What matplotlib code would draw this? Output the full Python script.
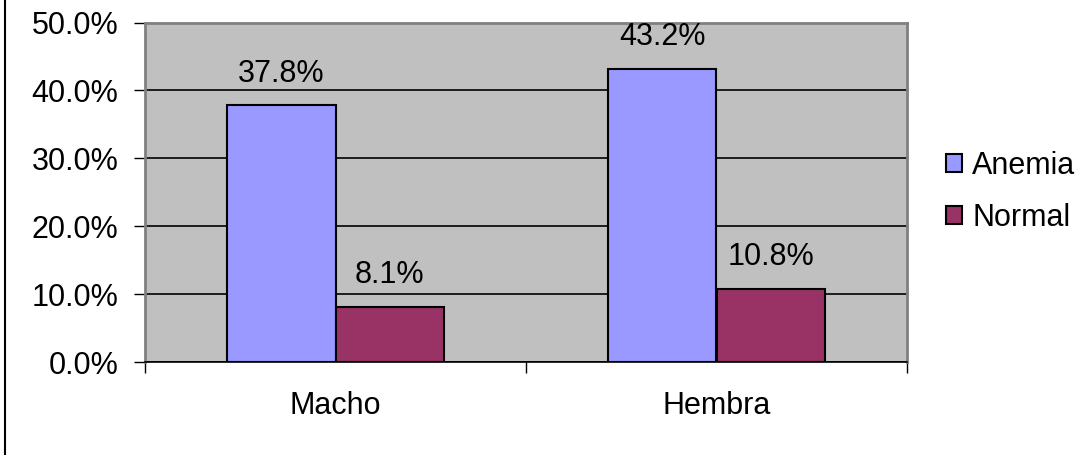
import matplotlib
matplotlib.use("Agg")
import matplotlib.pyplot as plt
import numpy as np
from matplotlib.patches import Patch
from matplotlib.lines import Line2D

plt.rcParams["font.family"] = ["Liberation Sans", "DejaVu Sans"]

categories = ["Macho", "Hembra"]
series_names = ["Anemia", "Normal"]
anemia = [37.8, 43.2]
normal = [8.1, 10.8]
y_ticks = [0, 10, 20, 30, 40, 50]
colors = ["#9999FF", "#993366"]

FS = 22

fig = plt.figure(figsize=(10.83, 4.55), dpi=100)
ax = fig.add_axes([145 / 1083, 93 / 455, 762 / 1083, 339.5 / 455])
ax.set_facecolor("#C0C0C0")

x = np.arange(len(categories))
w = 1 / 3.5
for i, (vals, col) in enumerate(zip([anemia, normal], colors)):
    pos = x + (i - 0.5) * w
    bars = ax.bar(pos, vals, width=w, color=col, edgecolor="black",
                  linewidth=1.5, zorder=3, label=series_names[i])
    for b, v in zip(bars, vals):
        ax.annotate(f"{v:.1f}%", (b.get_x() + b.get_width() / 2, v),
                    xytext=(0, 17), textcoords="offset points",
                    ha="center", va="baseline", fontsize=FS, zorder=4)

ax.set_xlim(-0.5, len(categories) - 0.5)
ax.set_ylim(0, 50)
ax.set_yticks(y_ticks)
ax.set_yticklabels([f"{t:.1f}%" for t in y_ticks], fontsize=FS)
ax.yaxis.grid(True, color="black", linewidth=1.2, zorder=1)
ax.set_axisbelow(True)

ax.set_xticks(x)
ax.set_xticklabels(categories, fontsize=FS)
ax.set_xticks([-0.5, 0.5, 1.5], minor=True)
ax.tick_params(axis="x", which="major", length=0, pad=21)
ax.tick_params(axis="x", which="minor", length=8, width=1, color="black", direction="out")
ax.tick_params(axis="y", length=8, width=1, color="black", direction="out", pad=11)

for s in ["top", "right", "left"]:
    ax.spines[s].set_color("#808080")
    ax.spines[s].set_linewidth(2)
ax.spines["bottom"].set_color("black")
ax.spines["bottom"].set_linewidth(1.2)
ax.spines["bottom"].set_zorder(5)

handles = [Patch(facecolor=c, edgecolor="black", linewidth=1.5) for c in colors]
fig.legend(handles, series_names, loc="center left",
           bbox_to_anchor=(934 / 1083, 1 - 192 / 455), frameon=False,
           fontsize=FS, handlelength=0.5, handleheight=0.5,
           handletextpad=0.35, labelspacing=0.72, borderaxespad=0)

fig.add_artist(Line2D([4.5 / 1083, 4.5 / 1083], [0, 1], color="black", linewidth=1.5))

fig.savefig("out.png", dpi=100)
